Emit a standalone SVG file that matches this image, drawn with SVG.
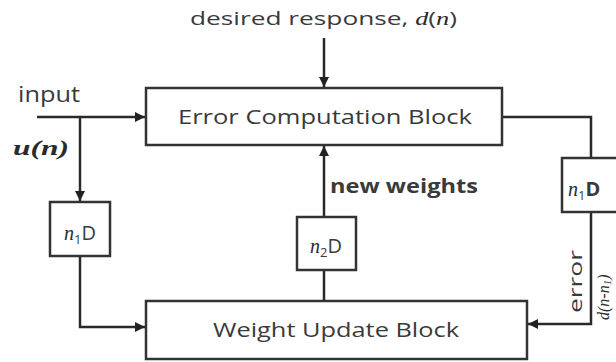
<svg xmlns="http://www.w3.org/2000/svg" width="616" height="362" viewBox="0 0 616 362">
<style>
.box{fill:#fff;stroke:#333;stroke-width:2.5}
.ln{fill:none;stroke:#2a2a2a;stroke-width:2.5}
.t{font-family:"Open Sans","Liberation Sans",sans-serif;fill:#3a3a3a}
.it{font-family:"Liberation Serif",serif;font-style:italic;fill:#2a2a2a}
</style>
<defs>
<marker id="ah" viewBox="0 0 10 10" refX="10" refY="5" markerWidth="4.4" markerHeight="4" orient="auto" markerUnits="strokeWidth">
<path d="M0,0 L10,5 L0,10 z" fill="#222"/>
</marker>
</defs>
<rect width="616" height="362" fill="#fff"/>
<g id="connectors">
<path class="ln" d="M37,117 H145" marker-end="url(#ah)"/>
<path class="ln" d="M80,117 V201" marker-end="url(#ah)"/>
<path class="ln" d="M80,256 V327 H145" stroke-width="3" marker-end="url(#ah)"/>
<path class="ln" d="M324,38 V87" marker-end="url(#ah)"/>
<path class="ln" d="M324,217 V146" marker-end="url(#ah)"/>
<path class="ln" d="M324,270 V301"/>
<path class="ln" d="M502,117 H591 V158"/>
<path class="ln" d="M591,212 V324 H528" marker-end="url(#ah)"/>
</g>
<g id="error-block">
<rect class="box" x="146" y="88" width="356" height="57"/>
<text class="t" x="325" y="124" font-size="20" text-anchor="middle" textLength="294" lengthAdjust="spacingAndGlyphs">Error Computation Block</text>
</g>
<g id="weight-block">
<rect class="box" x="146" y="301" width="381" height="58"/>
<text class="t" x="336" y="337" font-size="20" text-anchor="middle" textLength="246" lengthAdjust="spacingAndGlyphs">Weight Update Block</text>
</g>
<g id="delay-left">
<rect class="box" x="50" y="202" width="60" height="54"/>
<text x="80" y="240" text-anchor="middle" font-size="20"><tspan class="it">n</tspan><tspan class="t" font-size="13" dy="4">1</tspan><tspan class="t" dy="-4">D</tspan></text>
</g>
<g id="delay-mid">
<rect class="box" x="297" y="217" width="59" height="53"/>
<text x="326" y="253" text-anchor="middle" font-size="20"><tspan class="it">n</tspan><tspan class="t" font-size="13" dy="4">2</tspan><tspan class="t" dy="-4">D</tspan></text>
</g>
<g id="delay-right">
<rect class="box" x="562" y="158" width="60" height="54"/>
<text x="568" y="196" font-size="20"><tspan class="it">n</tspan><tspan class="t" font-size="13" dy="4">1</tspan><tspan class="t" dy="-4" font-weight="bold">D</tspan></text>
</g>
<g id="labels">
<text class="t" x="190" y="25" font-size="19" textLength="267" lengthAdjust="spacingAndGlyphs">desired response, <tspan class="it">d</tspan>(<tspan class="it">n</tspan>)</text>
<text class="t" x="18" y="102" font-size="21" textLength="62" lengthAdjust="spacingAndGlyphs">input</text>
<text class="it" x="13" y="155" font-size="22" font-weight="bold" textLength="56" lengthAdjust="spacingAndGlyphs">u(n)</text>
<text class="t" x="330" y="193" font-size="19" font-weight="bold" textLength="148" lengthAdjust="spacingAndGlyphs">new weights</text>
<text class="t" transform="translate(582,313) rotate(-90)" font-size="19" textLength="63" lengthAdjust="spacingAndGlyphs">error</text>
<text class="it" transform="translate(609,320) rotate(-90)" font-size="16">d(n-n<tspan font-size="11" dy="2">1</tspan><tspan dy="-2">)</tspan></text>
</g>
</svg>
